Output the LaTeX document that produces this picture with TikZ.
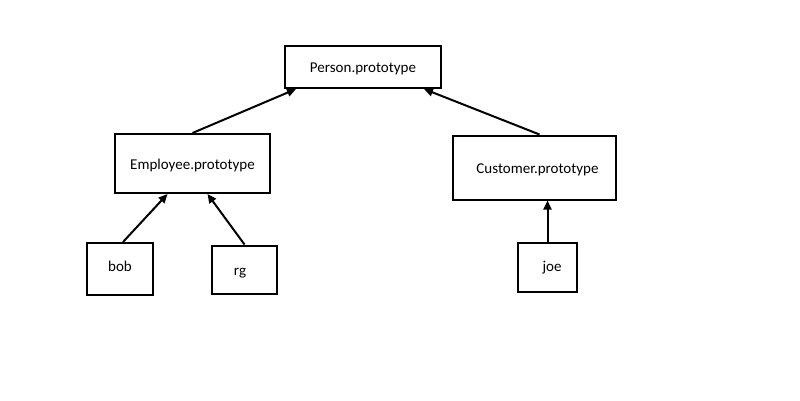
\documentclass[tikz,border=0pt]{standalone}
\usepackage{fontspec}
\setmainfont{Carlito}
\usetikzlibrary{arrows.meta}

\tikzset{
  box/.style={draw=black, line width=2pt, inner sep=0pt, font=\fontsize{15}{17}\selectfont},
  link/.style={line width=2pt, -{Triangle[length=9pt,width=8pt]}}
}
% shift a label up or down inside its box
\newcommand{\nudge}[2]{\raisebox{#1}[\height][\depth]{#2}}

\begin{document}
\begin{tikzpicture}[x=1pt,y=-1pt]
  \useasboundingbox (0,0) rectangle (800,400);

  % prototype chain
  \node[box, minimum width=156pt, minimum height=42pt] (person) at (363,67) {\nudge{-1.5pt}{Person.prototype}};
  \node[box, minimum width=155pt, minimum height=59pt] (emp) at (192.5,163.5) {\nudge{-2pt}{Employee.prototype}};
  \node[box, minimum width=163pt, minimum height=64pt] (cust) at (534.5,167.5) {\hspace*{6pt}\nudge{-2pt}{Customer.prototype}};

  % instances
  \node[box, minimum width=66pt, minimum height=52pt] (bob) at (120,269) {\nudge{3pt}{bob}};
  \node[box, minimum width=65pt, minimum height=48pt] (rg) at (244.5,269.5) {\hspace*{-9pt}\nudge{-4pt}{rg}};
  \node[box, minimum width=59pt, minimum height=49pt] (joe) at (547.5,267.5) {\hspace*{9pt}joe};

  % links
  \draw[link] (emp.north) -- ([xshift=12pt]person.south west);
  \draw[link] ([xshift=5pt]cust.north) -- ([xshift=-18pt]person.south east);
  \draw[link] ([xshift=3pt]bob.north) -- ([xshift=-25pt]emp.south);
  \draw[link] (rg.north) -- ([xshift=15pt]emp.south);
  \draw[link] (joe.north) -- (joe.north |- cust.south);
\end{tikzpicture}
\end{document}
